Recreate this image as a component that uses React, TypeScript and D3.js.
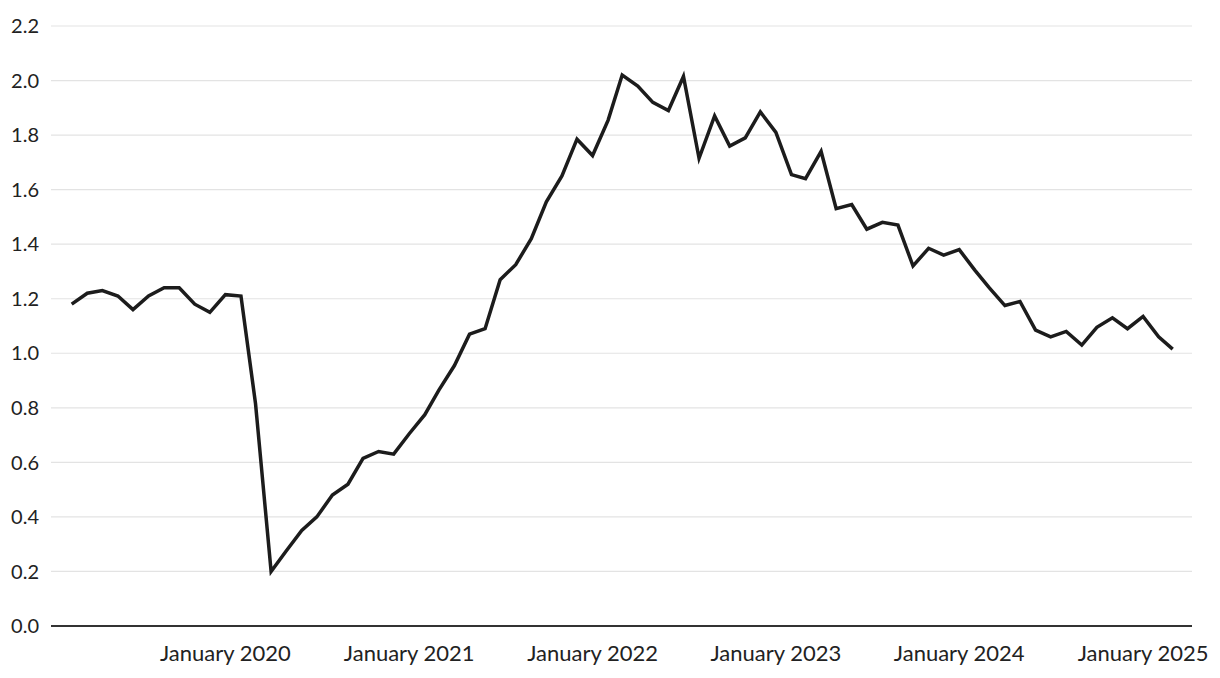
import React from "react";
import * as d3 from "d3";

const startYear = 2019;
const startMonth = 2; // March (0-based)

const values: number[] = [
  // 2019 Mar–Dec
  1.18, 1.22, 1.23, 1.21, 1.16, 1.21, 1.24, 1.24, 1.18, 1.15,
  // 2020
  1.215, 1.21, 0.815, 0.2, 0.275, 0.35, 0.4, 0.48, 0.52, 0.615, 0.64, 0.63,
  // 2021
  0.705, 0.775, 0.865, 0.955, 1.07, 1.09, 1.27, 1.325, 1.42, 1.555, 1.65, 1.785,
  // 2022
  1.725, 1.855, 2.02, 1.98, 1.92, 1.89, 2.015, 1.715, 1.87, 1.76, 1.79, 1.885,
  // 2023
  1.81, 1.655, 1.64, 1.74, 1.53, 1.545, 1.455, 1.48, 1.47, 1.32, 1.385, 1.36,
  // 2024
  1.38, 1.305, 1.24, 1.175, 1.19, 1.085, 1.06, 1.08, 1.03, 1.095, 1.13, 1.09,
  // 2025 Jan–Mar
  1.135, 1.06, 1.015,
];

const xTickYears = [2020, 2021, 2022, 2023, 2024, 2025];
const yTicks = [0, 0.2, 0.4, 0.6, 0.8, 1.0, 1.2, 1.4, 1.6, 1.8, 2.0, 2.2];

const W = 1220;
const H = 678;
const FONT = "'Source Sans Pro', Lato, 'Noto Sans', sans-serif";

export default function App() {
  const dates = values.map((_, i) => new Date(startYear, startMonth + i, 1));
  const data = values.map((v, i) => ({ d: dates[i], v }));

  const x = d3
    .scaleTime()
    .domain([dates[0], dates[dates.length - 1]])
    .range([71.7, 1172.7]);
  const y = d3.scaleLinear().domain([0, 2.2]).range([626, 26]);

  const line = d3
    .line<{ d: Date; v: number }>()
    .x((p) => x(p.d))
    .y((p) => y(p.v));

  const gridX0 = 51;
  const gridX1 = 1192;

  return (
    <div style={{ position: "fixed", left: 0, top: 0 }}>
      <svg width={W} height={H} style={{ display: "block", background: "#fff" }}>
        {yTicks.map((t) => (
          <g key={t}>
            {t !== 0 && (
              <line
                x1={gridX0}
                x2={gridX1}
                y1={y(t)}
                y2={y(t)}
                stroke="#e3e3e3"
                strokeWidth={1.2}
              />
            )}
            <text
              x={39}
              y={y(t)}
              dy="0.36em"
              textAnchor="end"
              fontFamily={FONT}
              fontSize={20}
              fill="#222"
            >
              {t.toFixed(1)}
            </text>
          </g>
        ))}
        <line x1={gridX0} x2={gridX1} y1={y(0)} y2={y(0)} stroke="#333" strokeWidth={2} />
        {xTickYears.map((yr) => {
          const xv = x(new Date(yr, 0, 1));
          return (
            <text
              key={yr}
              x={xv}
              y={661}
              textAnchor="middle"
              fontFamily={FONT}
              fontSize={22}
              fill="#222"
            >
              {`January ${yr}`}
            </text>
          );
        })}
        <path
          d={line(data) || ""}
          fill="none"
          stroke="#1c1c1c"
          strokeWidth={3.5}
          strokeLinejoin="miter"
          strokeLinecap="butt"
        />
      </svg>
    </div>
  );
}
